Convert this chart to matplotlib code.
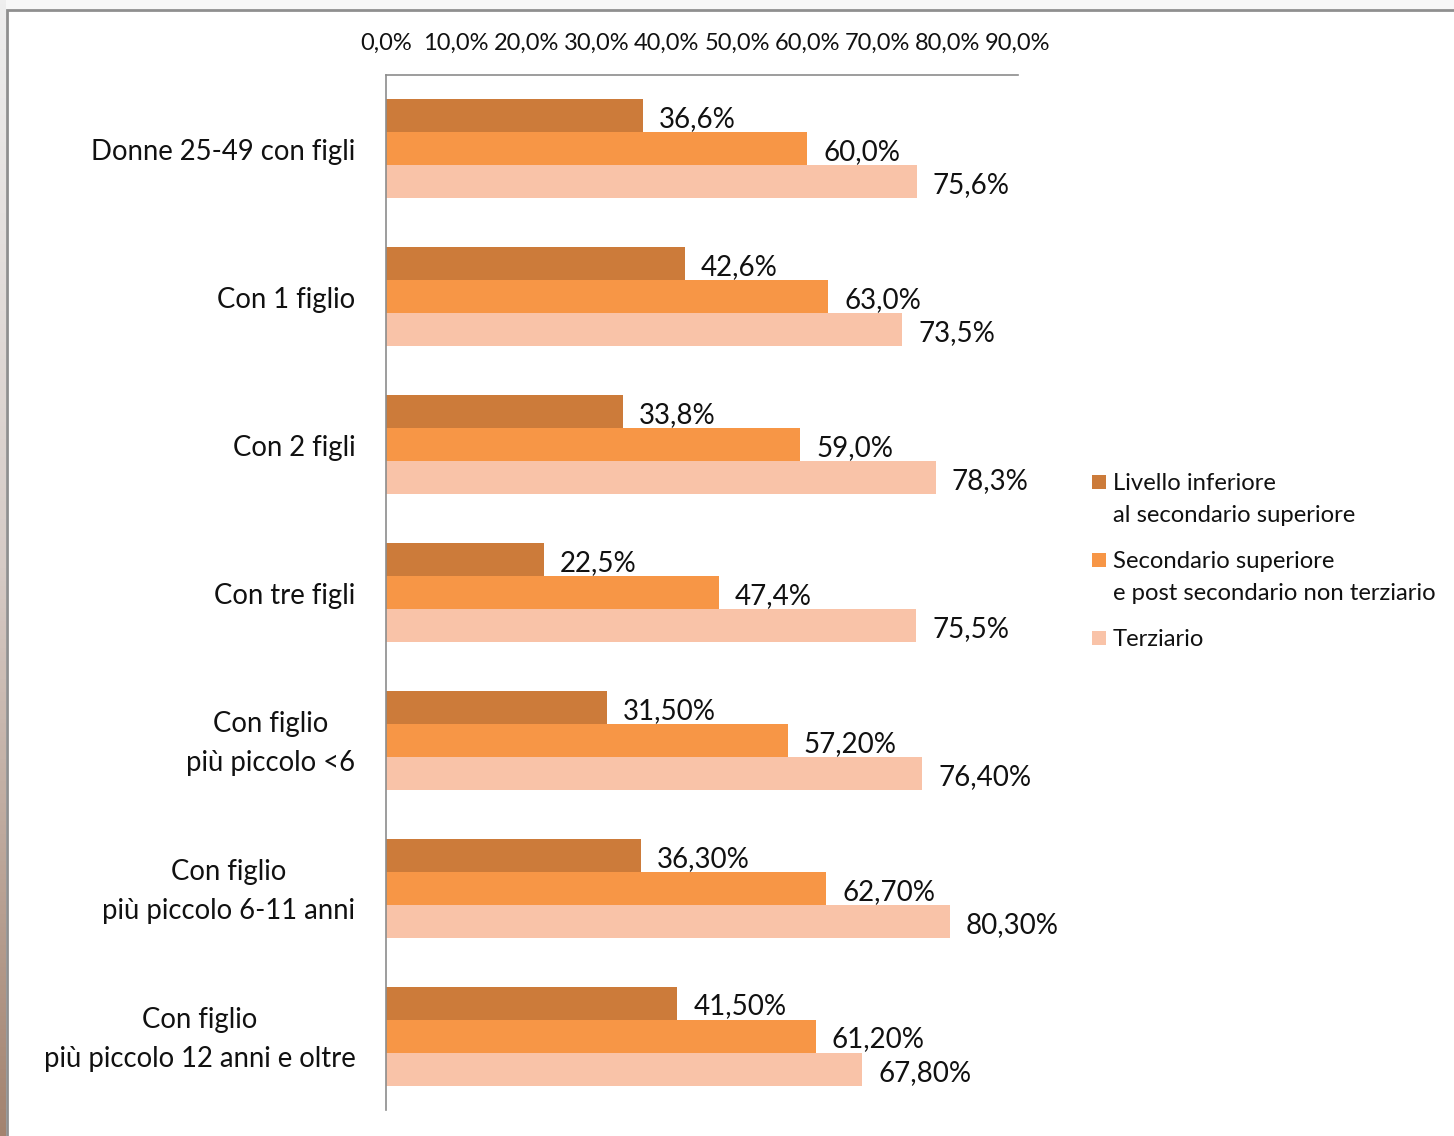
import numpy as np
import matplotlib
matplotlib.use("Agg")
import matplotlib.pyplot as plt
import matplotlib.transforms as mtransforms
from matplotlib.patches import Rectangle
from matplotlib.colors import LinearSegmentedColormap
from matplotlib.ticker import FuncFormatter, MultipleLocator

plt.rcParams["font.family"] = ["Lato", "DejaVu Sans"]

categories = [
    "Donne 25-49 con figli",
    "Con 1 figlio",
    "Con 2 figli",
    "Con tre figli",
    "Con figlio\npiù piccolo <6",
    "Con figlio\npiù piccolo 6-11 anni",
    "Con figlio\npiù piccolo 12 anni e oltre",
]
series_names = [
    "Livello inferiore\nal secondario superiore",
    "Secondario superiore\ne post secondario non terziario",
    "Terziario",
]
inferiore = [36.6, 42.6, 33.8, 22.5, 31.5, 36.3, 41.5]
secondario = [60.0, 63.0, 59.0, 47.4, 57.2, 62.7, 61.2]
terziario = [75.6, 73.5, 78.3, 75.5, 76.4, 80.3, 67.8]
value_labels = [
    ["36,6%", "42,6%", "33,8%", "22,5%", "31,50%", "36,30%", "41,50%"],
    ["60,0%", "63,0%", "59,0%", "47,4%", "57,20%", "62,70%", "61,20%"],
    ["75,6%", "73,5%", "78,3%", "75,5%", "76,40%", "80,30%", "67,80%"],
]
colors = ["#CC7B3A", "#F79646", "#F9C3A8"]

W, H = 1454, 1136
fig = plt.figure(figsize=(W / 100, H / 100), dpi=100, facecolor="#f7f7f7")

# slide frame
frame = fig.add_axes([0, 0, 1, 1], zorder=-10)
frame.set_xlim(0, W)
frame.set_ylim(H, 0)
frame.axis("off")
frame.add_patch(Rectangle((7, 10), W + 20, H + 20, facecolor="white",
                          edgecolor="#8f8f8f", linewidth=2))
strip = fig.add_axes([0, 0, 6 / W, 1], zorder=-9)
grad = LinearSegmentedColormap.from_list("edge", ["#eeeeee", "#d6cbc6", "#a3836f"])
strip.imshow(np.linspace(0, 1, 256).reshape(-1, 1), aspect="auto", cmap=grad)
strip.axis("off")

ax = fig.add_axes([386 / W, 1 - 1110 / H, (1018 - 386) / W, (1110 - 75) / H])
ax.set_facecolor("none")

y = np.arange(len(categories))
h = 0.2235
for k, (vals, col) in enumerate(zip([inferiore, secondario, terziario], colors)):
    pos = y + (k - 1) * h
    ax.barh(pos, vals, height=h, color=col, linewidth=0)
    for p, v, lab in zip(pos, vals, value_labels[k]):
        ax.annotate(lab, (v, p), xytext=(11.5, -2.5), textcoords="offset points",
                    ha="left", va="center", fontsize=20, color="#111111")

ax.set_xlim(0, 90)
ax.set_ylim(len(categories) - 0.5, -0.5)
ax.xaxis.set_major_locator(MultipleLocator(10))
ax.xaxis.set_major_formatter(FuncFormatter(lambda v, _: f"{v:.1f}%".replace(".", ",")))
ax.xaxis.tick_top()
ax.tick_params(axis="x", length=0, pad=15, labelsize=17, labelcolor="#111111")
ax.tick_params(axis="y", length=0, pad=22)
ax.set_yticks(y)
ax.set_yticklabels(categories, fontsize=19.8, color="#111111", multialignment="center",
                   linespacing=1.62)
shift_down = mtransforms.ScaledTranslation(0, -3 / 100, fig.dpi_scale_trans)
for lbl in ax.get_yticklabels():
    lbl.set_verticalalignment("center")
    lbl.set_transform(lbl.get_transform() + shift_down)
for side in ["right", "bottom"]:
    ax.spines[side].set_visible(False)
for side in ["top", "left"]:
    ax.spines[side].set_color("#8c8c8c")
    ax.spines[side].set_linewidth(1.2)

# legend
leg_y = [482, 560, 638]
for name, col, ly in zip(series_names, colors, leg_y):
    fig.patches.append(Rectangle((1092 / W, 1 - (ly + 7) / H), 14 / W, 14 / H,
                                 transform=fig.transFigure, facecolor=col,
                                 edgecolor="none"))
    fig.text(1113 / W, 1 - (ly - 9) / H, name, ha="left", va="top",
             fontsize=17.2, color="#111111", linespacing=1.62)

fig.savefig("out.png", dpi=100, facecolor=fig.get_facecolor())
